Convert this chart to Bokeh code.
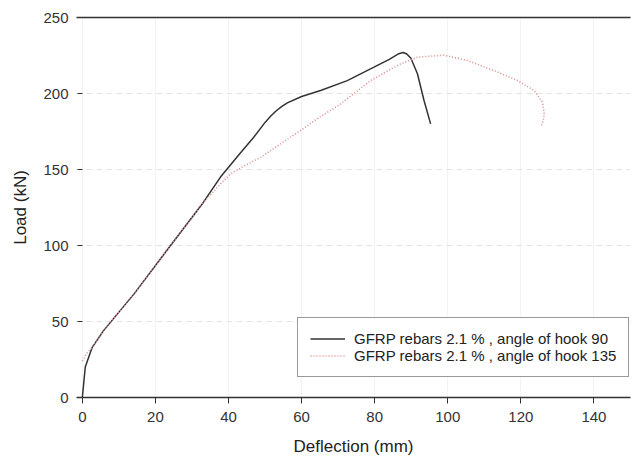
from bokeh.plotting import figure
from bokeh.models import Range1d, LinearAxis, Legend, LegendItem, FixedTicker
from bokeh.embed import file_html
from bokeh.resources import INLINE

# Data
hook90_x = [0, 0.8, 2.7, 5.8, 14.1, 23.2, 33, 37.8, 43.3, 46.9, 50, 51.5, 53, 54.6, 56.1, 60,
            65.2, 72.5, 79.8, 84, 86.6, 87.8, 88.8, 89.9, 91.7, 93.5, 95.3]
hook90_y = [0, 20, 33, 44, 68, 97, 128, 145, 161, 171.2, 181, 185, 188.5, 191.5, 193.8, 198,
            202, 208.5, 217.3, 222.5, 226.2, 227, 226, 223.2, 213, 195.4, 180]

hook135_x = [0, 1.2, 2.7, 5.8, 14.1, 23.2, 33, 38, 40.5, 44, 48.8, 54, 59.7, 65, 70.7, 78.9,
             84, 87.1, 91.7, 99, 105.4, 112.7, 119.1, 123.6, 125.9, 126.4, 126.1, 125.5]
hook135_y = [24, 29, 33, 44, 68, 97, 128, 141, 147, 152, 158, 166.5, 175.7, 184.5, 193.2, 208.5,
             215.5, 219.5, 223.9, 225.2, 221.7, 215, 208.5, 202, 194.3, 186.6, 182, 177.8]

x_ticks = [0, 20, 40, 60, 80, 100, 120, 140]
y_ticks = [0, 50, 100, 150, 200, 250]
labels = ["GFRP rebars 2.1 % , angle of hook 90", "GFRP rebars 2.1 % , angle of hook 135"]

FONT = "Liberation Sans"

p = figure(width=632, height=463, output_backend="svg", toolbar_location=None,
           x_range=Range1d(-1.6, 150), y_range=Range1d(0, 250),
           min_border_left=76, min_border_right=2, min_border_top=17, min_border_bottom=66)
p.outline_line_color = None
p.background_fill_color = "white"

# grids
p.xgrid.grid_line_color = "#f3f3f3"
p.xgrid.ticker = FixedTicker(ticks=x_ticks)
p.ygrid.grid_line_color = "#e4e4e4"
p.ygrid.grid_line_dash = "6 4"
p.ygrid.ticker = FixedTicker(ticks=[50, 100, 150, 200])

# x axis
xa = p.xaxis[0]
xa.ticker = FixedTicker(ticks=x_ticks)
xa.axis_label = "Deflection (mm)"
xa.axis_label_text_font = FONT
xa.axis_label_text_font_size = "17px"
xa.axis_label_text_font_style = "normal"
xa.axis_label_text_color = "#222222"
xa.axis_label_standoff = 12
xa.major_label_text_font = FONT
xa.major_label_text_font_size = "15px"
xa.major_label_text_color = "#333333"
xa.major_label_standoff = 8
xa.axis_line_color = "#333333"
xa.axis_line_width = 1.5
xa.major_tick_line_color = "#333333"
xa.major_tick_out = 6
xa.major_tick_in = 0
xa.minor_tick_line_color = None

# y axis: labels (at frame edge)
ya = p.yaxis[0]
ya.ticker = FixedTicker(ticks=y_ticks)
ya.axis_label = "Load (kN)"
ya.axis_label_text_font = FONT
ya.axis_label_text_font_size = "17px"
ya.axis_label_text_font_style = "normal"
ya.axis_label_text_color = "#222222"
ya.axis_label_standoff = 10
ya.major_label_text_font = FONT
ya.major_label_text_font_size = "15px"
ya.major_label_text_color = "#333333"
ya.major_label_standoff = 8
ya.axis_line_color = None
ya.major_tick_line_color = None
ya.major_tick_out = 0
ya.major_tick_in = 0
ya.minor_tick_line_color = None

# y ticks drawn at x = 0 (no labels)
yt = LinearAxis(ticker=FixedTicker(ticks=y_ticks), fixed_location=0,
                axis_line_color=None, major_tick_line_color="#333333",
                major_tick_out=5, major_tick_in=0, minor_tick_line_color=None,
                major_label_overrides={t: "" for t in y_ticks}, major_label_standoff=0)
p.add_layout(yt, "left")

# top line (frame top at 250)
top = LinearAxis(ticker=FixedTicker(ticks=[]), major_tick_line_color=None,
                 minor_tick_line_color=None, axis_line_color="#333333", axis_line_width=1.5,
                 major_label_standoff=0)
p.add_layout(top, "above")

r1 = p.line(hook90_x, hook90_y, line_color="#333333", line_width=1.5)
r2 = p.line(hook135_x, hook135_y, line_color="#d98c8c", line_width=1.6, line_dash="1 2")

legend = Legend(items=[LegendItem(label=labels[0], renderers=[r1]),
                       LegendItem(label=labels[1], renderers=[r2])],
                location=(221, 20))
legend.label_text_font = FONT
legend.label_text_font_size = "15px"
legend.label_text_color = "#222222"
legend.label_standoff = 9
legend.glyph_width = 35
legend.glyph_height = 15
legend.label_height = 15
legend.spacing = 0
legend.padding = 12
legend.margin = 0
legend.border_line_color = "#333333"
legend.border_line_width = 1
legend.background_fill_alpha = 1
p.add_layout(legend, "center")

open("out.html", "w").write(file_html(p, INLINE))
